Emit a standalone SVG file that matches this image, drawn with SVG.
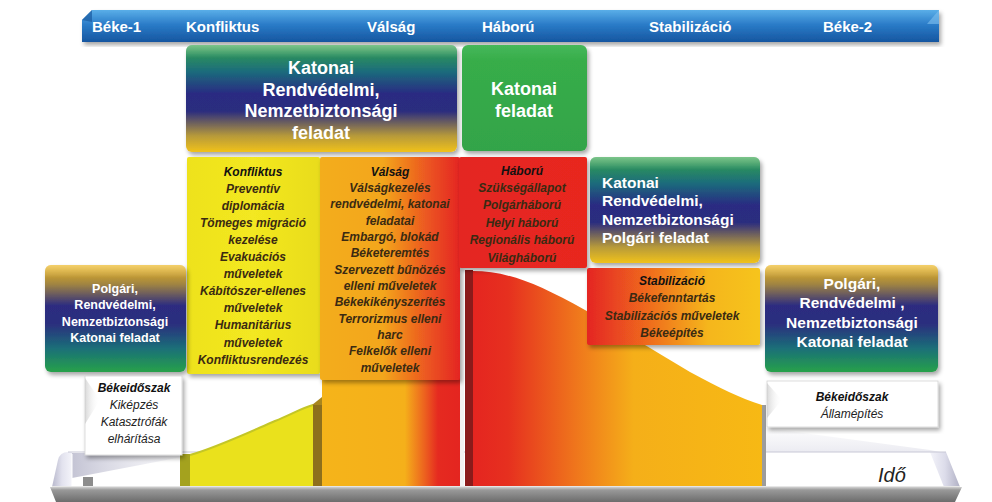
<svg xmlns="http://www.w3.org/2000/svg" width="992" height="502" viewBox="0 0 992 502">
<defs>
<style>
.bar{font-family:"Liberation Sans",Arial,sans-serif;font-weight:bold;font-size:15px;fill:#fff}
.big{font-family:"Liberation Sans",Arial,sans-serif;font-weight:bold;fill:#fff;text-anchor:middle}
.it{font-family:"Liberation Sans",Arial,sans-serif;font-style:italic;font-weight:bold;font-size:12px;fill:#3a2a12;text-anchor:middle}
.ih{fill:#111}
.pn{font-family:"Liberation Sans",Arial,sans-serif;font-style:italic;font-size:12px;fill:#222;text-anchor:middle}
.pb{font-weight:bold;fill:#111}
</style>
<filter id="sh" x="-10%" y="-10%" width="125%" height="125%">
<feDropShadow dx="2" dy="3" stdDeviation="2" flood-color="#000" flood-opacity="0.35"/>
</filter>
<linearGradient id="gBar" x1="0" y1="0" x2="0" y2="1">
<stop offset="0" stop-color="#5aaee8"/><stop offset="0.45" stop-color="#2a7cc8"/><stop offset="1" stop-color="#1656a0"/>
</linearGradient>
<linearGradient id="gGBY" x1="0" y1="0" x2="0" y2="1">
<stop offset="0" stop-color="#35a54c"/><stop offset="0.25" stop-color="#1c6b7c"/><stop offset="0.45" stop-color="#292c82"/><stop offset="0.62" stop-color="#2c2d7e"/><stop offset="0.85" stop-color="#b79a3a"/><stop offset="1" stop-color="#f1c21a"/>
</linearGradient>
<linearGradient id="gYBG" x1="0" y1="0" x2="0" y2="1">
<stop offset="0" stop-color="#eeb71e"/><stop offset="0.18" stop-color="#a08442"/><stop offset="0.38" stop-color="#2d2c80"/><stop offset="0.55" stop-color="#2b2e7e"/><stop offset="0.78" stop-color="#1a6f78"/><stop offset="1" stop-color="#27a14a"/>
</linearGradient>
<linearGradient id="gGreen" x1="0" y1="0" x2="0" y2="1">
<stop offset="0" stop-color="#46b85a"/><stop offset="0.15" stop-color="#37ad4a"/><stop offset="1" stop-color="#33a448"/>
</linearGradient>
<linearGradient id="gYel" x1="0" y1="0" x2="1" y2="0">
<stop offset="0" stop-color="#eee21e"/><stop offset="0.5" stop-color="#f3e820"/><stop offset="1" stop-color="#e9dc1a"/>
</linearGradient>
<linearGradient id="gVal" x1="0" y1="0" x2="1" y2="0">
<stop offset="0" stop-color="#f3ad1c"/><stop offset="0.45" stop-color="#f3a61b"/><stop offset="0.75" stop-color="#ec5a20"/><stop offset="1" stop-color="#e42521"/>
</linearGradient>
<linearGradient id="gRed" x1="0" y1="0" x2="1" y2="0">
<stop offset="0" stop-color="#e42521"/><stop offset="1" stop-color="#e8261f"/>
</linearGradient>
<linearGradient id="gStab" x1="0" y1="0" x2="1" y2="0">
<stop offset="0" stop-color="#e42521"/><stop offset="0.35" stop-color="#ef6a1f"/><stop offset="0.7" stop-color="#f5b61a"/><stop offset="1" stop-color="#f6c41a"/>
</linearGradient>
<linearGradient id="gValA" x1="322" y1="0" x2="460" y2="0" gradientUnits="userSpaceOnUse">
<stop offset="0" stop-color="#f5b41a"/><stop offset="0.6" stop-color="#f5b01a"/><stop offset="0.75" stop-color="#ec5e1f"/><stop offset="0.84" stop-color="#e52a20"/><stop offset="1" stop-color="#e42520"/>
</linearGradient>
<linearGradient id="gWarA" x1="473" y1="0" x2="765" y2="0" gradientUnits="userSpaceOnUse">
<stop offset="0" stop-color="#e52520"/><stop offset="0.12" stop-color="#e6301f"/><stop offset="0.35" stop-color="#ef751c"/><stop offset="0.55" stop-color="#f5af19"/><stop offset="1" stop-color="#f7b914"/>
</linearGradient>
<linearGradient id="gRim" x1="0" y1="0" x2="1" y2="0">
<stop offset="0" stop-color="#b8b8cc"/><stop offset="0.5" stop-color="#e2e2ee"/><stop offset="1" stop-color="#f4f4fa"/>
</linearGradient>
<linearGradient id="gRimR" x1="0" y1="0" x2="1" y2="0">
<stop offset="0" stop-color="#f4f4fa"/><stop offset="0.5" stop-color="#dcdcea"/><stop offset="1" stop-color="#b0b0c4"/>
</linearGradient>
<linearGradient id="gWedge" x1="0" y1="0" x2="1" y2="0">
<stop offset="0" stop-color="#c4c4d4"/><stop offset="1" stop-color="#e8e8f0" stop-opacity="0.3"/>
</linearGradient>
<linearGradient id="gWedgeR" x1="0" y1="0" x2="0" y2="1">
<stop offset="0" stop-color="#e6e6ee" stop-opacity="0.2"/><stop offset="1" stop-color="#dedee8"/>
</linearGradient>
<linearGradient id="gPlatFront" x1="0" y1="0" x2="0" y2="1">
<stop offset="0" stop-color="#d0d0d0"/><stop offset="0.2" stop-color="#999999"/><stop offset="1" stop-color="#6c6c6c"/>
</linearGradient>
<linearGradient id="gGloss" x1="0" y1="0" x2="0" y2="1">
<stop offset="0" stop-color="#fff" stop-opacity="0.35"/><stop offset="0.12" stop-color="#fff" stop-opacity="0"/>
</linearGradient>
<linearGradient id="gNotch" x1="0" y1="0" x2="1" y2="0">
<stop offset="0" stop-color="#c8c8c8"/><stop offset="1" stop-color="#ffffff" stop-opacity="0"/>
</linearGradient>
</defs>

<rect width="992" height="502" fill="#ffffff"/>

<!-- Platform -->
<g id="platform">
<path d="M52,487 L58,460 Q60,452 68,452 L72,452 L72,487 Z" fill="url(#gRim)"/>
<path d="M72,453 L182,453 L182,457 L72,478 Z" fill="url(#gWedge)"/>
<path d="M766,428 L930,450 L940,452 L766,452 Z" fill="url(#gWedgeR)" opacity="0.6"/>
<path d="M930,452 L946,452 L960,487 L944,487 Z" fill="url(#gRimR)"/>
<line x1="68" y1="452" x2="946" y2="452" stroke="#c8c8d6" stroke-width="1"/>
<line x1="72" y1="454" x2="72" y2="486" stroke="#ffffff" stroke-width="1"/>
<path d="M50,487 L962,487 L955,502 L56,502 Z" fill="url(#gPlatFront)"/>
<line x1="52" y1="486.5" x2="960" y2="486.5" stroke="#e6e6e6" stroke-width="1.2"/>
</g>

<!-- Area chart -->
<g id="chart">
<rect x="83" y="477" width="10" height="9" fill="#8c8c8c"/>
<rect x="180" y="454" width="10" height="32" fill="#a4a21e"/>
<path d="M190,455 C215,448 245,434 275,421 C292,414 302,408 313,405 L313,486 L190,486 Z" fill="#eae11c"/>
<path d="M190,455 C215,448 245,434 275,421 C292,414 302,408 313,405" fill="none" stroke="#c4c626" stroke-width="2"/>
<path d="M312,405 L322,405 L352,381 L342,381 Z" fill="#a8861e"/>
<rect x="313" y="405" width="9" height="81" fill="#8e6f1c"/>
<rect x="322" y="378" width="138" height="108" fill="url(#gValA)"/>
<rect x="460" y="270" width="4" height="216" fill="#f2f2f2"/>
<rect x="465" y="270" width="8" height="216" fill="#8a1b1b"/>
<path d="M473,271 C505,271 535,282 585,310 C620,330 650,348 690,372 C720,388 740,398 762,405 L762,486 L473,486 Z" fill="url(#gWarA)"/>
<rect x="762" y="405" width="4" height="81" fill="#9c9c9c"/>
</g>

<!-- Top bar -->
<g id="topbar">
<path d="M82,42 L82,20 L92,10 L939,10 L939,42 Z" fill="url(#gBar)" filter="url(#sh)"/>
<path d="M82,20 L92,10 L92,22 Z" fill="#1a5aa0" opacity="0.7"/>
<path d="M927,24 L939,10 L939,24 Z" fill="#7fc0ee" opacity="0.6"/>
<text class="bar" x="92" y="31.5">Béke-1</text>
<text class="bar" x="186" y="31.5">Konfliktus</text>
<text class="bar" x="367" y="31.5">Válság</text>
<text class="bar" x="482" y="31.5">Háború</text>
<text class="bar" x="649" y="31.5">Stabilizáció</text>
<text class="bar" x="823" y="31.5">Béke-2</text>
</g>

<!-- Big box 1 -->
<g id="katonai-rendvedelmi">
<rect x="186" y="45" width="271" height="107" rx="6" fill="url(#gGBY)" filter="url(#sh)"/>
<rect x="186" y="45" width="271" height="107" rx="6" fill="url(#gGloss)"/>
<text class="big" font-size="18" x="321" y="73.5">Katonai</text>
<text class="big" font-size="18" x="321" y="95.5">Rendvédelmi,</text>
<text class="big" font-size="18" x="321" y="117">Nemzetbiztonsági</text>
<text class="big" font-size="18" x="321" y="138.5">feladat</text>
</g>

<!-- Big box 2 -->
<g id="katonai-feladat">
<rect x="462" y="45" width="125" height="106" rx="6" fill="url(#gGreen)" filter="url(#sh)"/>
<text class="big" font-size="18" x="524" y="94.5">Katonai</text>
<text class="big" font-size="18" x="524" y="116.5">feladat</text>
</g>

<!-- Konfliktus -->
<g id="konfliktus">
<rect x="187" y="157" width="133" height="217" rx="2" fill="url(#gYel)" filter="url(#sh)"/>
<text class="it ih" x="253" y="175.5">Konfliktus</text>
<text class="it" x="253" y="192.6">Preventív</text>
<text class="it" x="253" y="209.7">diplomácia</text>
<text class="it" x="253" y="226.8">Tömeges migráció</text>
<text class="it" x="253" y="243.9">kezelése</text>
<text class="it" x="253" y="261">Evakuációs</text>
<text class="it" x="253" y="278.1">műveletek</text>
<text class="it" x="253" y="295.2">Kábítószer-ellenes</text>
<text class="it" x="253" y="312.3">műveletek</text>
<text class="it" x="253" y="329.4">Humanitárius</text>
<text class="it" x="253" y="346.5">műveletek</text>
<text class="it" x="253" y="363.6">Konfliktusrendezés</text>
</g>

<!-- Válság -->
<g id="valsag">
<rect x="320" y="157" width="140" height="223" rx="2" fill="url(#gVal)" filter="url(#sh)"/>
<text class="it ih" x="390" y="175.5">Válság</text>
<text class="it" x="390" y="191.8">Válságkezelés</text>
<text class="it" x="390" y="208.2">rendvédelmi, katonai</text>
<text class="it" x="390" y="224.5">feladatai</text>
<text class="it" x="390" y="240.8">Embargó, blokád</text>
<text class="it" x="390" y="257.2">Béketeremtés</text>
<text class="it" x="390" y="273.5">Szervezett bűnözés</text>
<text class="it" x="390" y="289.8">elleni műveletek</text>
<text class="it" x="390" y="306.1">Békekikényszerítés</text>
<text class="it" x="390" y="322.5">Terrorizmus elleni</text>
<text class="it" x="390" y="338.8">harc</text>
<text class="it" x="390" y="355.1">Felkelők elleni</text>
<text class="it" x="390" y="371.5">műveletek</text>
</g>

<!-- Háború -->
<g id="haboru">
<rect x="459" y="157" width="128" height="111" rx="2" fill="url(#gRed)" filter="url(#sh)"/>
<text class="it ih" x="522" y="174.5">Háború</text>
<text class="it" x="522" y="191.9">Szükségállapot</text>
<text class="it" x="522" y="209.3">Polgárháború</text>
<text class="it" x="522" y="226.7">Helyi háború</text>
<text class="it" x="522" y="244.1">Regionális háború</text>
<text class="it" x="522" y="261.5">Világháború</text>
</g>

<!-- Katonai ... Polgári feladat -->
<g id="katonai-polgari">
<rect x="590" y="157" width="170" height="106" rx="6" fill="url(#gGBY)" filter="url(#sh)"/>
<rect x="590" y="157" width="170" height="106" rx="6" fill="url(#gGloss)"/>
<text class="big" font-size="15.5" style="text-anchor:start" x="602" y="187.5">Katonai</text>
<text class="big" font-size="15.5" style="text-anchor:start" x="602" y="206">Rendvédelmi,</text>
<text class="big" font-size="15.5" style="text-anchor:start" x="602" y="224.5">Nemzetbiztonsági</text>
<text class="big" font-size="15.5" style="text-anchor:start" x="602" y="243">Polgári feladat</text>
</g>

<!-- Stabilizáció -->
<g id="stabilizacio">
<rect x="587" y="268" width="173" height="77" rx="2" fill="url(#gStab)" filter="url(#sh)"/>
<text class="it ih" x="672" y="284.5">Stabilizáció</text>
<text class="it" x="672" y="302.1">Békefenntartás</text>
<text class="it" x="672" y="319.7">Stabilizációs műveletek</text>
<text class="it" x="672" y="337.3">Békeépítés</text>
</g>

<!-- Left Polgári -->
<g id="polgari-1">
<rect x="45" y="265" width="141" height="107" rx="6" fill="url(#gYBG)" filter="url(#sh)"/>
<rect x="45" y="265" width="141" height="107" rx="6" fill="url(#gGloss)"/>
<text class="big" font-size="12.5" x="115" y="292.5">Polgári,</text>
<text class="big" font-size="12.5" x="115" y="309">Rendvédelmi,</text>
<text class="big" font-size="12.5" x="115" y="325.5">Nemzetbiztonsági</text>
<text class="big" font-size="12.5" x="115" y="342">Katonai feladat</text>
</g>

<!-- Left Békeidőszak -->
<g id="bekeidoszak-1">
<rect x="85" y="376" width="97" height="79" fill="#ffffff" stroke="#d4d4d4" stroke-width="0.8" filter="url(#sh)"/>
<path d="M85,378 L100,400 L85,424 Z" fill="url(#gNotch)" opacity="0.7"/>
<text class="pn pb" x="134" y="391.5">Békeidőszak</text>
<text class="pn" x="134" y="408.8">Kiképzés</text>
<text class="pn" x="134" y="426.1">Katasztrófák</text>
<text class="pn" x="134" y="443.4">elhárítása</text>
</g>

<!-- Right Polgári -->
<g id="polgari-2">
<rect x="765" y="265" width="173" height="107" rx="6" fill="url(#gYBG)" filter="url(#sh)"/>
<rect x="765" y="265" width="173" height="107" rx="6" fill="url(#gGloss)"/>
<text class="big" font-size="15.5" x="852" y="288.5">Polgári,</text>
<text class="big" font-size="15.5" x="852" y="308">Rendvédelmi ,</text>
<text class="big" font-size="15.5" x="852" y="327.5">Nemzetbiztonsági</text>
<text class="big" font-size="15.5" x="852" y="347">Katonai feladat</text>
</g>

<!-- Right Békeidőszak -->
<g id="bekeidoszak-2">
<rect x="767" y="381" width="171" height="46" fill="#ffffff" stroke="#d4d4d4" stroke-width="0.8" filter="url(#sh)"/>
<path d="M767,383 L782,400 L767,418 Z" fill="url(#gNotch)" opacity="0.7"/>
<text class="pn pb" x="852" y="400.5">Békeidőszak</text>
<text class="pn" x="852" y="417.5">Államépítés</text>
</g>

<g id="connectors"></g>

<text x="878" y="482" font-family="'Liberation Sans',Arial,sans-serif" font-style="italic" font-size="20" fill="#222">Idő</text>
</svg>
